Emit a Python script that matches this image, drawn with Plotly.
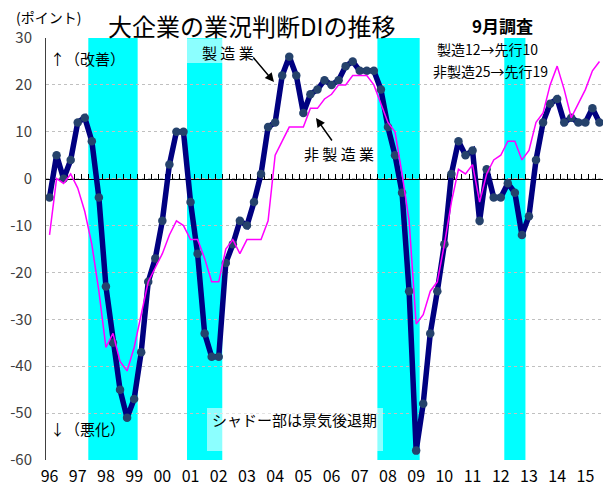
import plotly.graph_objects as go

# Quarterly Tankan DI (large enterprises), 1996Q1 .. 2015Q3
manufacturing = [-4, 5, 0, 4, 12, 13, 8, -4, -23, -35, -45, -51, -47, -37, -22, -17,
                 -9, 3, 10, 10, -5, -16, -33, -38, -38, -18, -14, -9, -10, -5, 1, 11,
                 12, 22, 26, 22, 14, 18, 19, 21, 20, 21, 24, 25, 23, 23, 23, 19,
                 11, 5, -3, -24, -58, -48, -33, -24, -14, 1, 8, 5, 6, -9, 2, -4,
                 -4, -1, -3, -12, -8, 4, 12, 16, 17, 12, 13, 12, 12, 15, 12]
non_manufacturing = [-12, 0, -1, 1, -2, -7, -14, -24, -36, -33, -39, -41, -36, -29, -22, -19,
                     -16, -12, -9, -10, -13, -13, -17, -22, -22, -15, -13, -16, -13, -13, -13, -9,
                     5, 8, 11, 11, 11, 15, 15, 17, 18, 20, 20, 22, 22, 22, 20, 16,
                     12, 10, 1, -9, -31, -29, -24, -22, -14, -5, 2, 1, 3, -5, 1, 4,
                     5, 8, 8, 4, 6, 12, 14, 20, 24, 19, 13, 16, 19, 23, 25]
quarter_index = list(range(len(manufacturing)))

year_tick_index = list(range(0, 80, 4))
year_labels = ["96", "97", "98", "99", "00", "01", "02", "03", "04", "05",
               "06", "07", "08", "09", "10", "11", "12", "13", "14", "15"]
y_ticks = [30, 20, 10, 0, -10, -20, -30, -40, -50, -60]
y_tick_labels = [str(v) for v in y_ticks]

# recession shading (start, end) in quarter-index units
recessions = [(5.5, 12.5), (19.5, 24.5), (46.5, 52.5), (64.5, 67.5)]

FONT = "Noto Sans CJK JP"
W, H = 609, 487
L, R, T, B = 46, 6, 38, 27
PW, PH = W - L - R, H - T - B


def xp(px):
    return (px - L) / PW


def yp(py):
    return (H - B - py) / PH


fig = go.Figure()
fig.add_trace(go.Scatter(
    x=quarter_index, y=manufacturing, mode="lines+markers", name="製造業",
    line=dict(color="#000080", width=5.5),
    marker=dict(color="#25426c", size=8.5, line=dict(width=0)),
    xaxis="x", yaxis="y", showlegend=False))
fig.add_trace(go.Scatter(
    x=quarter_index, y=non_manufacturing, mode="lines", name="非製造業",
    line=dict(color="#ff00ff", width=1.5),
    xaxis="x2", yaxis="y", showlegend=False))

shapes = []
for a, b in recessions:
    shapes.append(dict(type="rect", xref="x", yref="paper", x0=a, x1=b, y0=0, y1=1,
                       fillcolor="#00ffff", line=dict(width=0), layer="between"))
# semi-transparent label boxes
shapes.append(dict(type="rect", xref="paper", yref="paper", x0=xp(182), x1=xp(258),
                   y0=yp(63), y1=yp(38.5), fillcolor="rgba(255,255,255,0.55)",
                   line=dict(width=0), layer="above"))
shapes.append(dict(type="rect", xref="paper", yref="paper", x0=xp(207), x1=xp(383),
                   y0=yp(451), y1=yp(408), fillcolor="rgba(255,255,255,0.55)",
                   line=dict(width=0), layer="above"))


def txt(s, x, y, size, bold=False, anchor="left"):
    return dict(text=f"<b>{s}</b>" if bold else s, xref="paper", yref="paper",
                x=xp(x), y=yp(y), xanchor=anchor, yanchor="middle", showarrow=False,
                font=dict(family=FONT, size=size, color="#000"))


annotations = [
    txt("(ポイント)", 14, 17, 14),
    txt("大企業の業況判断DIの推移", 106, 25, 24),
    txt("9月調査", 470, 26, 17, bold=True),
    txt("製造12→先行10", 435, 49, 14),
    txt("非製造25→先行19", 431, 71, 14),
    txt("↑（改善）", 48, 58, 15),
    txt("↓（悪化）", 48, 428, 15),
    txt("製 造 業", 200, 52, 15),
    txt("非 製 造 業", 302, 153, 15),
    txt("シャドー部は景気後退期", 210, 419, 15),
    dict(x=xp(274), y=yp(82), xref="paper", yref="paper", ax=-22, ay=-26,
         showarrow=True, arrowhead=2, arrowsize=1.2, arrowwidth=1.5, arrowcolor="#000", text=""),
    dict(x=xp(316), y=yp(118), xref="paper", yref="paper", ax=17, ay=24,
         showarrow=True, arrowhead=2, arrowsize=1.2, arrowwidth=1.5, arrowcolor="#000", text=""),
]

fig.update_layout(
    width=W, height=H, margin=dict(l=L, r=R, t=T, b=B, pad=0, autoexpand=False),
    paper_bgcolor="white", plot_bgcolor="white",
    font=dict(family=FONT, color="#000"),
    shapes=shapes, annotations=annotations,
    xaxis=dict(range=[-0.5, 78.5], tickmode="array", tickvals=year_tick_index,
               ticktext=year_labels, showgrid=False, showline=False, zeroline=False,
               ticks="", tickfont=dict(family=FONT, size=16, color="#000"),
               ticklabelstandoff=5, automargin=False),
    xaxis2=dict(range=[-0.5, 78.5], overlaying="x", anchor="free", position=2 / 3,
                tickmode="linear", tick0=-0.5, dtick=1, ticks="inside", ticklen=5,
                tickcolor="#000", tickwidth=1, showticklabels=False, showline=True,
                linecolor="#000", linewidth=1.2, showgrid=False, zeroline=False,
                layer="below traces", automargin=False),
    yaxis=dict(range=[-60, 30], tickmode="array", tickvals=y_ticks, ticktext=y_tick_labels,
               showgrid=True, gridcolor="#c0c0c0", griddash="dot", gridwidth=1,
               showline=True, linecolor="#404040", linewidth=1, zeroline=False,
               ticks="", tickfont=dict(family=FONT, size=15, color="#404040"),
               ticklabelstandoff=10, automargin=False),
)

fig.write_html("out.html", config={"displayModeBar": False},
               post_script="document.body.style.margin='0';")
